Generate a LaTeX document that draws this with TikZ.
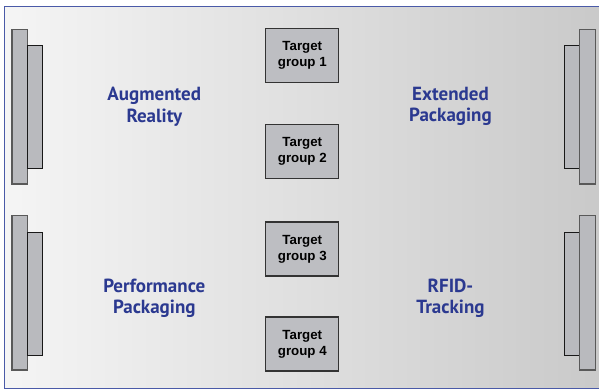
\documentclass[tikz,border=0pt]{standalone}
\usepackage{fontspec}
\setmainfont{Liberation Sans}
\newfontfamily\labelfont{PT Sans}
\definecolor{frameblue}{HTML}{4A5AA8}
\definecolor{labelblue}{HTML}{2B3990}
\definecolor{barfill}{HTML}{B9BABE}
\definecolor{boxfill}{HTML}{BDBEC2}
\begin{document}
\begin{tikzpicture}[x=1pt,y=-1pt,
  outerbar/.style={draw=black!65,fill=barfill,line width=1.1pt},
  innerbar/.style={draw=black!90,fill=barfill,line width=1pt},
  tgbox/.style={draw=black!80,fill=boxfill,line width=1.3pt,minimum width=73pt,minimum height=54pt,inner sep=0pt,align=center,font=\fontsize{13.3}{16}\selectfont\bfseries},
  area/.style={text=labelblue,align=center,font=\labelfont\fontsize{19}{21.5}\selectfont\bfseries}]
\useasboundingbox (0,0) rectangle (599,389);
\shade[left color=white!96!black,right color=black!21] (4,6) rectangle (599,388);
\draw[frameblue,line width=1pt] (601,6) -- (4,6) -- (4,388) -- (601,388);
% left bars
\draw[outerbar] (12,29.5) rectangle (27.5,184);
\draw[innerbar] (27.5,45) rectangle (42.5,168);
\draw[outerbar] (12,215.5) rectangle (27.5,370);
\draw[innerbar] (27.5,232) rectangle (42.5,355);
% right bars
\draw[innerbar] (564,45) rectangle (579.5,168);
\draw[outerbar] (579.5,29.5) rectangle (595.5,184);
\draw[innerbar] (564,232) rectangle (579.5,355);
\draw[outerbar] (579.5,215.5) rectangle (595.5,370);
% target boxes
\node[tgbox] (t1) at (302.3,55.5) {Target\\group 1};
\node[tgbox] (t2) at (302.3,151.7) {Target\\group 2};
\node[tgbox] (t3) at (302.3,249) {Target\\group 3};
\node[tgbox] (t4) at (302.3,344) {Target\\group 4};
% labels
\node[area] (ar) at (154.3,106.5) {Augmented\\Reality};
\node[area] (ep) at (450.5,106.5) {Extended\\Packaging};
\node[area] (pp) at (154.3,298.5) {Performance\\Packaging};
\node[area] (rf) at (450.5,298.5) {RFID-\\Tracking};
\end{tikzpicture}
\end{document}
